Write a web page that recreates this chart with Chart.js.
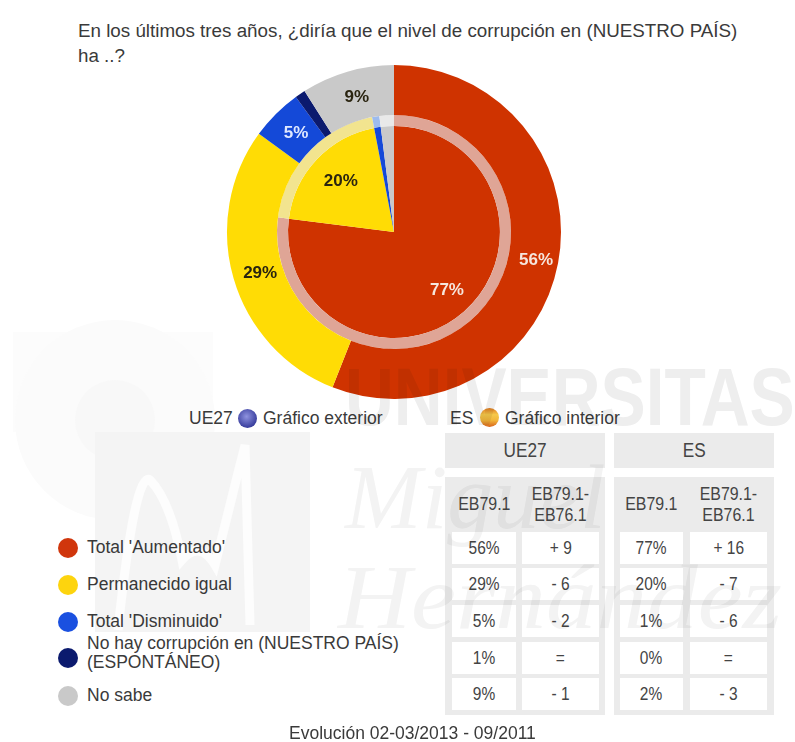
<!DOCTYPE html>
<html lang="es"><head><meta charset="utf-8">
<script src="https://cdn.jsdelivr.net/npm/chart.js@4"></script>
<style>
html,body{margin:0;padding:0;background:#fff;width:795px;height:742px;overflow:hidden}
#page{position:absolute;left:0;top:0;width:795px;height:742px;font-family:"Liberation Sans",Arial,sans-serif;color:#3a3a3a;filter:blur(.65px);background:#fff}
.t{position:absolute;white-space:nowrap;font-size:17.5px;line-height:19px}
#wrap{position:absolute;left:224px;top:62px;width:340px;height:340px}
.panel{position:absolute;background:#ebebeb}
.cell,.head{position:absolute;display:flex;align-items:center;justify-content:center;text-align:center;color:#444}
.cell{background:#fff;font-size:18px;line-height:18px}
.head{font-size:18.5px;line-height:21px}
.cell span,.head span{display:inline-block;transform:scaleX(.86)}
.dot{position:absolute;width:20px;height:20px;border-radius:50%}
#wm{position:absolute;left:0;top:0;mix-blend-mode:multiply;pointer-events:none}
</style></head><body>
<div id="page">
<div class="t" style="left:78px;top:18px;font-size:18.8px;line-height:25px">En los últimos tres años, ¿diría que el nivel de corrupción en (NUESTRO PAÍS)<br>ha ..?</div>
<div id="wrap"><canvas id="c" width="340" height="340"></canvas></div>
<div class="t" style="left:189px;top:409px">UE27</div>
<div class="dot" style="left:238px;top:409px;width:19px;height:19px;background:radial-gradient(circle at 45% 40%,#8f93e0,#3a3f9e 70%,#2a2e80)"></div>
<div class="t" style="left:263px;top:409px">Gráfico exterior</div>
<div class="t" style="left:450px;top:409px">ES</div>
<div class="dot" style="left:480px;top:408px;width:19px;height:19px;background:linear-gradient(#e07a20,#f6c94a 35%,#f2b63a 65%,#d8641c)"></div>
<div class="t" style="left:505px;top:409px">Gráfico interior</div>
<div id="table"></div>
<div id="legend"></div>
<div class="t" style="left:289px;top:724px">Evolución 02-03/2013 - 09/2011</div>
<svg id="wm" width="795" height="742" xmlns="http://www.w3.org/2000/svg">
<rect x="13" y="332" width="200" height="100" fill="#fcfcfc"/>
<circle cx="115" cy="420" r="100" fill="#fbfbfb"/>
<circle cx="115" cy="420" r="40" fill="#f8f8f8"/>
<rect x="95" y="432" width="215" height="200" fill="#f4f4f4"/>
<path d="M118 630 Q135 470 150 480 Q170 500 182 560 Q200 540 215 565 L245 445 L250 625" fill="none" stroke="#fdfdfd" stroke-width="9"/>
<text transform="translate(345,425) scale(.825,1)" font-family="Liberation Sans" font-weight="bold" font-size="82" fill="#eeeeee">UNIVERSITAS</text>
<text x="345" y="528" font-family="Liberation Serif" font-style="italic" font-size="92" fill="#f3f3f3">Miguel</text>
<text transform="translate(338,628) scale(1.1,1)" font-family="Liberation Serif" font-style="italic" font-size="92" fill="#f3f3f3">Hernández</text>
</svg>
</div>
<script>
const categories=["Total 'Aumentado'","Permanecido igual","Total 'Disminuido'","No hay corrupción en (NUESTRO PAÍS)<br>(ESPONTÁNEO)","No sabe"];
const ue27Values=[56,29,5,1,9];
const esValues=[77,20,1,0,2];
const ue27Delta=["+ 9","- 6","- 2","=","- 1"];
const esDelta=["+ 16","- 7","- 6","=","- 3"];
const sliceColors=["#cf3300","#ffdc05","#1449d8","#0b1a6e","#c9c9c9"];
const ringColors=["#dfa596","#f2e48f","#9dbbee","#9aa0c4","#e9e9e9"];
const legendColors=["#d0360c","#fdd40e","#1a50e0","#0b1a6e","#c9c9c9"];
const groupNames=["UE27","ES"];
const colHeads=["EB79.1","EB79.1-<br>EB76.1"];

const rowTops=[532,568,605,642,678], rowH=32;
const legendY=[548,585,622,658,696];
const tbl=document.getElementById('table');
function el(cls,css,html){const d=document.createElement('div');d.className=cls;d.style.cssText=css;d.innerHTML=html||'';return d}
[[445,160,452,64,522,77,ue27Values,ue27Delta],[614,160,620,63,690,77,esValues,esDelta]].forEach((g,i)=>{
  tbl.append(el('panel',`left:${g[0]}px;top:433px;width:${g[1]}px;height:35px`));
  tbl.append(el('head',`left:${g[0]}px;top:433px;width:${g[1]}px;height:35px;font-size:20px`,`<span>${groupNames[i]}</span>`));
  tbl.append(el('panel',`left:${g[0]}px;top:477px;width:${g[1]}px;height:238px`));
  tbl.append(el('head',`left:${g[2]}px;top:477px;width:${g[3]}px;height:53px`,`<span>${colHeads[0]}</span>`));
  tbl.append(el('head',`left:${g[4]}px;top:477px;width:${g[5]}px;height:53px`,`<span>${colHeads[1]}</span>`));
  rowTops.forEach((y,r)=>{
    tbl.append(el('cell',`left:${g[2]}px;top:${y}px;width:${g[3]}px;height:${rowH}px`,`<span>${g[6][r]}%</span>`));
    tbl.append(el('cell',`left:${g[4]}px;top:${y}px;width:${g[5]}px;height:${rowH}px`,`<span>${g[7][r]}</span>`));
  });
});
const lg=document.getElementById('legend');
categories.forEach((c,i)=>{
  lg.append(el('dot',`left:58px;top:${legendY[i]-10}px;background:${legendColors[i]}`));
  const two=c.includes('<br>');
  lg.append(el('t',`left:87px;top:${two?634:legendY[i]-10}px;line-height:19px`,c));
});

const labelPlugin={id:'sliceLabels',afterDatasetsDraw(chart){
  const ctx=chart.ctx;
  ctx.save();ctx.font='bold 17px "Liberation Sans",Arial,sans-serif';ctx.textAlign='center';ctx.textBaseline='middle';
  [0,2].forEach(di=>{
    const vals=chart.data.datasets[di].data;
    chart.getDatasetMeta(di).data.forEach((a,i)=>{
      if(vals[i]<5)return;
      const m=(a.startAngle+a.endAngle)/2;
      const r=di===0?(a.innerRadius+a.outerRadius)/2:a.outerRadius*.72;
      ctx.fillStyle=(i===0)?'#f6e6dc':(i===2)?'#dfe8ff':'#2a2410';
      ctx.fillText(vals[i]+'%',a.x+r*Math.cos(m)+2.5,a.y+r*Math.sin(m)+1.5);
    });
  });
  ctx.restore();
}};
new Chart(document.getElementById('c'),{
  type:'doughnut',
  data:{labels:categories,datasets:[
    {label:'UE27',data:ue27Values,backgroundColor:sliceColors,borderWidth:0,weight:50},
    {label:'ES anillo',data:esValues,backgroundColor:ringColors,borderWidth:0,weight:11},
    {label:'ES',data:esValues,backgroundColor:sliceColors,borderWidth:0,weight:106}
  ]},
  options:{responsive:false,animation:false,cutout:0,layout:{padding:3},
    plugins:{legend:{display:false},title:{display:false},tooltip:{enabled:false}}},
  plugins:[labelPlugin]
});
</script>
</body></html>
